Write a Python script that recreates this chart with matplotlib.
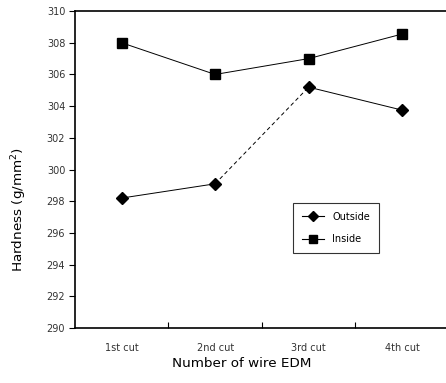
import matplotlib
matplotlib.use("Agg")
import matplotlib.pyplot as plt
from matplotlib.lines import Line2D

CUTS = ["1st cut", "2nd cut", "3rd cut", "4th cut"]
OUTSIDE = [298.2, 299.1, 305.2, 303.75]
INSIDE = [308.0, 306.0, 307.0, 308.55]
Y_TICKS = list(range(290, 311, 2))
BOUNDARIES = [0.5, 1.5, 2.5]

fig = plt.figure(figsize=(4.46, 3.83), dpi=100)
ax = fig.add_axes([0.168, 0.1436, 0.832, 0.8275])

x = list(range(len(CUTS)))

# inside: plain solid line
ax.plot(x, INSIDE, color="black", lw=0.7, marker="s", markersize=6.5,
        markerfacecolor="black", markeredgecolor="black")

# outside: solid, then dashed between 2nd and 3rd cut, then solid again
ax.plot(x[:2], OUTSIDE[:2], color="black", lw=0.7)
ax.plot(x[1:3], OUTSIDE[1:3], color="black", lw=0.7, ls=(0, (4, 3)))
ax.plot(x[2:], OUTSIDE[2:], color="black", lw=0.7)
ax.plot(x, OUTSIDE, ls="none", marker="D", markersize=6,
        markerfacecolor="black", markeredgecolor="black")

ax.set_xlim(-0.5, 3.47)
ax.set_ylim(290, 310)
ax.set_yticks(Y_TICKS)
ax.set_yticklabels([str(v) for v in Y_TICKS], fontsize=7, color="#333333")
ax.set_xticks(BOUNDARIES)
ax.set_xticklabels([])
ax.tick_params(axis="x", direction="in", length=4, width=0.8)
ax.tick_params(axis="y", direction="out", length=4, width=0.8, pad=3)
for i, name in enumerate(CUTS):
    ax.text(i, 288.75, name, ha="center", va="center", fontsize=7, color="#333333")

ax.spines["right"].set_visible(False)
for side in ("left", "top", "bottom"):
    ax.spines[side].set_linewidth(1.2)

fig.text(0.543, 0.052, "Number of wire EDM", ha="center",
         va="center", fontsize=9.7)
fig.text(0.042, 0.452, "Hardness (g/mm$^2$)", rotation=90, ha="center",
         va="center", fontsize=9.7)

handles = [
    Line2D([], [], color="black", lw=0.8, marker="D", markersize=5, label="Outside"),
    Line2D([], [], color="black", lw=0.8, marker="s", markersize=5.5, label="Inside"),
]
leg = ax.legend(handles=handles, loc="center", bbox_to_anchor=(0.753, 0.405),
                bbox_transform=fig.transFigure, fontsize=7, frameon=True,
                fancybox=False, edgecolor="black", handlelength=2.3,
                borderpad=0.9, labelspacing=1.3)
leg.get_frame().set_linewidth(0.8)

fig.savefig("out.png", dpi=100)
